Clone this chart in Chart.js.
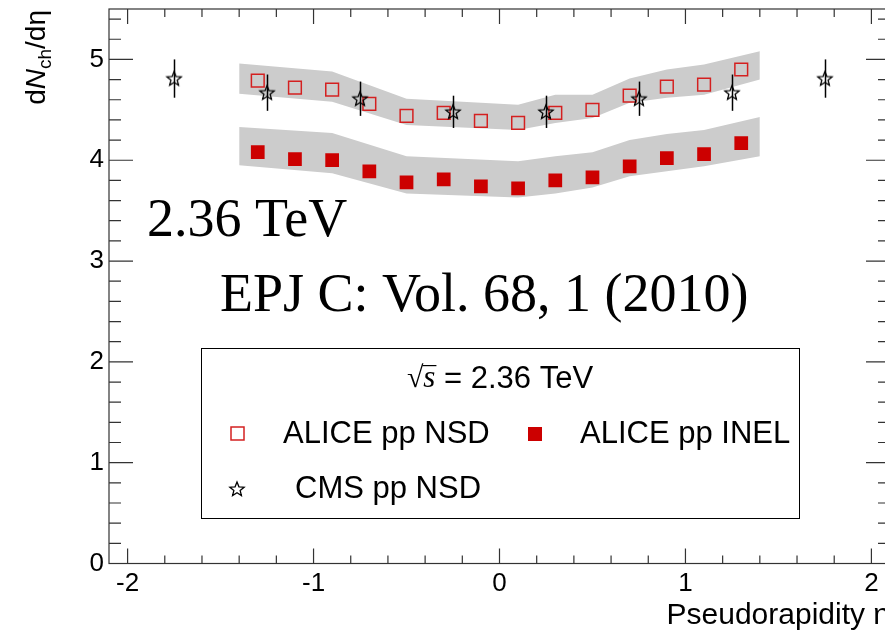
<!DOCTYPE html>
<html><head><meta charset="utf-8">
<script src="https://cdn.jsdelivr.net/npm/chart.js@4/dist/chart.umd.min.js"></script>
<style>
html,body{margin:0;padding:0;background:#fff;overflow:hidden;}
#wrap{position:relative;width:892px;height:634px;}
</style></head><body>
<div id="wrap"><canvas id="c"></canvas></div>
<script>
// ---- data ----
const etaAlice   = [-1.3,-1.1,-0.9,-0.7,-0.5,-0.3,-0.1,0.1,0.3,0.5,0.7,0.9,1.1,1.3];
const aliceNSD   = [4.79,4.72,4.70,4.56,4.44,4.47,4.39,4.37,4.47,4.50,4.64,4.73,4.75,4.90];
const aliceINEL  = [4.08,4.01,4.00,3.89,3.78,3.81,3.74,3.72,3.80,3.83,3.94,4.02,4.06,4.17];
const bandEta    = [-1.4,-0.9,-0.5,0.1,0.3,0.5,0.7,0.9,1.1,1.4];
const nsdBandHi  = [4.96,4.88,4.61,4.55,4.65,4.65,4.81,4.90,4.95,5.08];
const nsdBandLo  = [4.66,4.58,4.35,4.30,4.37,4.42,4.57,4.62,4.65,4.80];
const inelBandHi = [4.33,4.27,4.04,3.99,4.04,4.08,4.20,4.26,4.30,4.43];
const inelBandLo = [3.95,3.87,3.67,3.63,3.67,3.73,3.84,3.89,3.94,4.04];
const etaCMS     = [-1.75,-1.25,-0.75,-0.25,0.25,0.75,1.25,1.75];
const cmsNSD     = [4.81,4.67,4.61,4.48,4.48,4.61,4.67,4.81];
const cmsErr     = [0.19,0.18,0.17,0.16,0.16,0.17,0.18,0.19];
const xTicks      = [-2,-1,0,1,2];
const xTickLabels = ['-2','-1','0','1','2'];
const yTicks      = [0,1,2,3,4,5];
const yTickLabels = ['0','1','2','3','4','5'];
const seriesNames = ['ALICE pp NSD','ALICE pp INEL','CMS pp NSD'];

const RED_OPEN = '#d42020', RED_FILL = '#cc0000', BAND = '#cccccc';
const SANS = '"Liberation Sans", Arial, sans-serif';
const SERIF = '"Liberation Serif", "Times New Roman", serif';

function makeStar(){
  const s = 18, c = document.createElement('canvas'); c.width = s; c.height = s;
  const g = c.getContext('2d'); g.strokeStyle = '#000'; g.lineWidth = 1.3;
  const R = 7.5, r = 3.3, cx = s/2, cy = s/2 + 0.5;
  g.beginPath();
  for (let i = 0; i < 10; i++) {
    const a = -Math.PI/2 + i*Math.PI/5, rr = (i % 2) ? r : R;
    const x = cx + rr*Math.cos(a), y = cy + rr*Math.sin(a);
    i ? g.lineTo(x, y) : g.moveTo(x, y);
  }
  g.closePath(); g.stroke();
  return c;
}
const starImg = makeStar();

const pts = (xs, ys) => xs.map((x, i) => ({x, y: ys[i]}));
const bandLine = (xs, ys, fill) => ({data: pts(xs, ys), showLine: true, borderColor: 'rgba(0,0,0,0)',
  borderWidth: 1, pointRadius: 0, tension: 0, fill: fill, backgroundColor: BAND, order: 10});

const zeroPad = s => { s.paddingTop = 0; s.paddingBottom = 0; s.paddingLeft = 0; s.paddingRight = 0; };

const decor = {
  id: 'decor',
  afterDatasetsDraw(chart) {
    const {ctx, chartArea: a, scales: {x, y}} = chart;
    ctx.save();
    // CMS error bars
    ctx.strokeStyle = '#000'; ctx.lineWidth = 1.5;
    etaCMS.forEach((e, i) => {
      const px = Math.round(x.getPixelForValue(e)) + 0.5;
      ctx.beginPath();
      ctx.moveTo(px, y.getPixelForValue(cmsNSD[i] + cmsErr[i]));
      ctx.lineTo(px, y.getPixelForValue(cmsNSD[i] - cmsErr[i]));
      ctx.stroke();
    });
    // frame
    ctx.strokeStyle = '#333'; ctx.lineWidth = 1.2;
    ctx.strokeRect(a.left, a.top, a.right - a.left, a.bottom - a.top);
    // inward ticks
    ctx.beginPath();
    for (let k = -10; k <= 10; k++) {
      const v = k/5; const px = x.getPixelForValue(v);
      const L = (k % 5 === 0) ? 15 : 8;
      ctx.moveTo(px, a.bottom); ctx.lineTo(px, a.bottom - L);
      ctx.moveTo(px, a.top); ctx.lineTo(px, a.top + L);
    }
    for (let k = 0; k <= 27; k++) {
      const v = k/5; const py = y.getPixelForValue(v);
      const L = (k % 5 === 0) ? 24 : 12;
      ctx.moveTo(a.left, py); ctx.lineTo(a.left + L, py);
      ctx.moveTo(a.right, py); ctx.lineTo(a.right - L, py);
    }
    ctx.stroke();
    ctx.restore();
  },
  afterDraw(chart) {
    const {ctx, chartArea: a} = chart;
    ctx.save();
    // y title: dN_ch/dη (rotated)
    ctx.translate(45, a.top + 1);
    ctx.rotate(-Math.PI/2);
    ctx.fillStyle = '#000'; ctx.textBaseline = 'alphabetic'; ctx.textAlign = 'left';
    const parts = [
      {t: 'd', f: `28px ${SANS}`, dy: 0},
      {t: 'N', f: `italic 28px ${SANS}`, dy: 0},
      {t: 'ch', f: `19px ${SANS}`, dy: 6},
      {t: '/d\u03b7', f: `28px ${SANS}`, dy: 0}
    ];
    let W = 0;
    parts.forEach(p => { ctx.font = p.f; p.w = ctx.measureText(p.t).width; W += p.w; });
    let cx = -W;
    parts.forEach(p => { ctx.font = p.f; ctx.fillText(p.t, cx, p.dy); cx += p.w; });
    ctx.restore();

    ctx.save();
    ctx.fillStyle = '#000';
    // annotations
    ctx.font = `54px ${SERIF}`; ctx.textBaseline = 'alphabetic'; ctx.textAlign = 'left';
    ctx.fillText('2.36 TeV', 147, 236);
    ctx.fillText('EPJ C: Vol. 68, 1 (2010)', 220, 311);

    // legend box
    ctx.fillStyle = '#fff'; ctx.fillRect(201, 348, 598, 170);
    ctx.strokeStyle = '#000'; ctx.lineWidth = 1;
    ctx.strokeRect(201.5, 348.5, 598, 170);
    ctx.fillStyle = '#000'; ctx.textBaseline = 'middle';
    // header: √s = 2.36 TeV
    const hp = [
      {t: '\u221a', f: `30px ${SERIF}`},
      {t: 's', f: `italic 31px ${SERIF}`},
      {t: ' = 2.36 TeV', f: `31px ${SANS}`}
    ];
    let HW = 0;
    hp.forEach(p => { ctx.font = p.f; p.w = ctx.measureText(p.t).width; HW += p.w; });
    let hx = 500 - HW/2;
    hp.forEach((p, i) => {
      ctx.font = p.f; ctx.fillText(p.t, hx, 379);
      if (i === 1) { ctx.fillRect(hx - 1, 365, p.w + 2, 1.2); }
      hx += p.w;
    });
    ctx.font = `31px ${SANS}`;
    // entries
    ctx.strokeStyle = RED_OPEN; ctx.lineWidth = 1.5;
    ctx.strokeRect(231, 427, 13, 13);
    ctx.fillStyle = '#000'; ctx.fillText(seriesNames[0], 283, 434);
    ctx.fillStyle = RED_FILL; ctx.fillRect(528, 427, 14, 14);
    ctx.fillStyle = '#000'; ctx.fillText(seriesNames[1], 580, 434);
    ctx.drawImage(starImg, 237 - 9, 489 - 9);
    ctx.fillText(seriesNames[2], 295, 489);
    ctx.restore();
  }
};

new Chart(document.getElementById('c'), {
  type: 'scatter',
  data: {datasets: [
    bandLine(bandEta, nsdBandHi, '+1'),
    bandLine(bandEta, nsdBandLo, false),
    bandLine(bandEta, inelBandHi, '+1'),
    bandLine(bandEta, inelBandLo, false),
    {label: seriesNames[0], data: pts(etaAlice, aliceNSD), pointStyle: 'rect', pointRadius: 9,
     borderColor: RED_OPEN, borderWidth: 1.5, backgroundColor: 'rgba(0,0,0,0)', order: 3},
    {label: seriesNames[1], data: pts(etaAlice, aliceINEL), pointStyle: 'rect', pointRadius: 9.7,
     borderColor: RED_FILL, borderWidth: 0.01, backgroundColor: RED_FILL, order: 3},
    {label: seriesNames[2], data: pts(etaCMS, cmsNSD), pointStyle: starImg, pointRadius: 9, order: 1}
  ]},
  options: {
    animation: false, responsive: true, maintainAspectRatio: false,
    layout: {autoPadding: false, padding: {top: 9, right: 2, left: 0, bottom: 0}},
    plugins: {legend: {display: false}, tooltip: {enabled: false}},
    scales: {
      x: {type: 'linear', min: -2.1, max: 2.1,
        afterBuildTicks: s => { s.ticks = xTicks.map(v => ({value: v})); },
        afterFit: s => { s.height = 70.5; zeroPad(s); },
        grid: {display: false, drawTicks: false}, border: {display: false},
        ticks: {color: '#000', font: {family: SANS, size: 26}, padding: 5, maxRotation: 0, autoSkip: false,
          callback: v => xTickLabels[xTicks.indexOf(v)]},
        title: {display: true, text: 'Pseudorapidity \u03b7', align: 'end', color: '#000',
          font: {family: SANS, size: 30}, padding: {top: 0, bottom: 0}}},
      y: {type: 'linear', min: 0, max: 5.5,
        afterBuildTicks: s => { s.ticks = yTicks.map(v => ({value: v})); },
        afterFit: s => { s.width = 109; zeroPad(s); },
        grid: {display: false, drawTicks: false}, border: {display: false},
        ticks: {color: '#000', font: {family: SANS, size: 26}, padding: 5, autoSkip: false,
          callback: v => yTickLabels[yTicks.indexOf(v)]},
        title: {display: false}}
    }
  },
  plugins: [decor]
});
</script>
</body></html>
